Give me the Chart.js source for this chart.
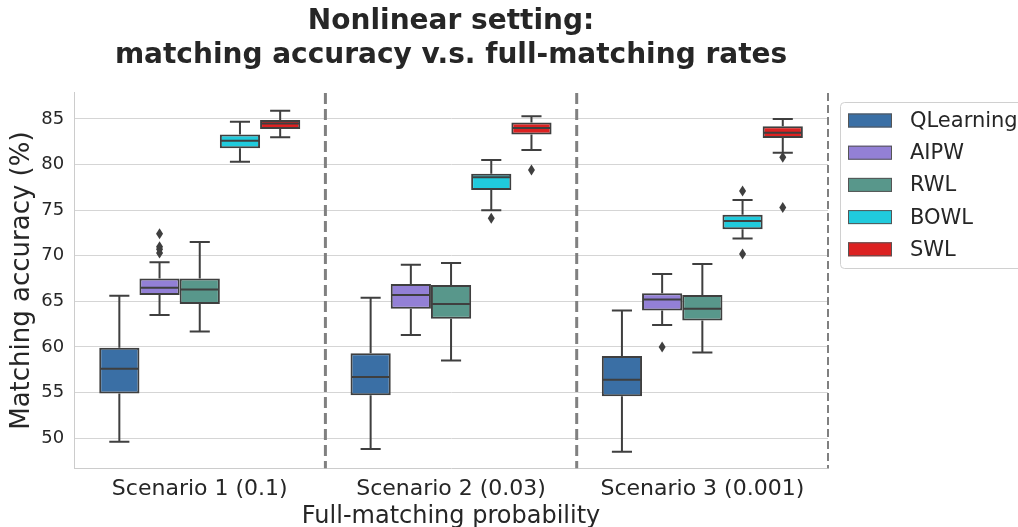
<!DOCTYPE html>
<html>
<head>
<meta charset="utf-8">
<script src="https://cdn.jsdelivr.net/npm/chart.js@4.4.0/dist/chart.umd.min.js"></script>
<style>
  html, body { margin: 0; padding: 0; background: #fff; overflow: hidden; }
  #wrap { width: 1018px; height: 527px; }
</style>
</head>
<body>
<div id="wrap"><canvas id="grafico" width="1018" height="527"></canvas></div>
<script>
// categorias e métodos
const scenarios = ['Scenario 1 (0.1)', 'Scenario 2 (0.03)', 'Scenario 3 (0.001)'];
const methods = ['QLearning', 'AIPW', 'RWL', 'BOWL', 'SWL'];
const yTicks = [50, 55, 60, 65, 70, 75, 80, 85];

// cada linha: [bigode inferior, Q1, mediana, Q3, bigode superior], um por cenário
const qlearningStats = [[49.6, 54.9, 57.6, 59.9, 65.6], [48.8, 54.7, 56.7, 59.3, 65.4], [48.5, 54.6, 56.4, 59.0, 64.0]];
const aipwStats      = [[63.5, 65.7, 66.5, 67.5, 69.3], [61.3, 64.2, 65.7, 66.9, 69.0], [62.4, 64.0, 65.2, 65.9, 68.0]];
const rwlStats       = [[61.7, 64.7, 66.3, 67.5, 71.5], [58.5, 63.1, 64.7, 66.8, 69.2], [59.4, 62.9, 64.2, 65.7, 69.1]];
const bowlStats      = [[80.3, 81.8, 82.6, 83.3, 84.7], [75.0, 77.2, 78.6, 79.0, 80.5], [71.9, 72.9, 73.8, 74.5, 76.1]];
const swlStats       = [[83.0, 83.9, 84.5, 84.9, 85.9], [81.6, 83.3, 84.0, 84.6, 85.3], [81.3, 82.9, 83.5, 84.2, 85.0]];

// pontos fora dos bigodes
const qlearningOutliers = [[], [], []];
const aipwOutliers      = [[72.4, 71.0, 70.7, 70.3], [], [60.0]];
const rwlOutliers       = [[], [], []];
const bowlOutliers      = [[], [74.1], [77.1, 70.2]];
const swlOutliers       = [[], [79.4], [80.8, 75.3]];

const allStats = [qlearningStats, aipwStats, rwlStats, bowlStats, swlStats];
const allOutliers = [qlearningOutliers, aipwOutliers, rwlOutliers, bowlOutliers, swlOutliers];
const cores = ['#3a6fa5', '#9380d6', '#58978b', '#20cbdd', '#dc2121'];
const cinza = '#3f3f3f';

// bigodes, medianas e outliers desenhados pela escala do gráfico
const boxExtras = {
  id: 'boxExtras',
  beforeDatasetsDraw(chart) {
    const ctx = chart.ctx, x = chart.scales.x, area = chart.chartArea;
    ctx.save();
    ctx.strokeStyle = '#808080';
    for (let i = 0; i < scenarios.length - 1; i++) {
      const xm = (x.getPixelForValue(i) + x.getPixelForValue(i + 1)) / 2;
      ctx.lineWidth = 3;
      ctx.setLineDash([11, 5]);
      ctx.beginPath(); ctx.moveTo(xm, area.top); ctx.lineTo(xm, area.bottom); ctx.stroke();
    }
    ctx.lineWidth = 2;
    ctx.setLineDash([8, 4]);
    ctx.beginPath(); ctx.moveTo(area.right, area.top); ctx.lineTo(area.right, area.bottom); ctx.stroke();
    ctx.restore();
  },
  afterDatasetsDraw(chart) {
    const ctx = chart.ctx, y = chart.scales.y;
    ctx.save();
    ctx.strokeStyle = cinza;
    ctx.fillStyle = cinza;
    allStats.forEach((stats, i) => {
      const meta = chart.getDatasetMeta(i);
      meta.data.forEach((bar, j) => {
        const s = stats[j];
        const cx = bar.x, w = bar.width;
        const lo = y.getPixelForValue(s[0]), q1 = y.getPixelForValue(s[1]);
        const med = y.getPixelForValue(s[2]), q3 = y.getPixelForValue(s[3]);
        const hi = y.getPixelForValue(s[4]);
        ctx.lineWidth = 2;
        ctx.beginPath();
        ctx.moveTo(cx, q1); ctx.lineTo(cx, lo);
        ctx.moveTo(cx - w / 4, lo); ctx.lineTo(cx + w / 4, lo);
        ctx.moveTo(cx, q3); ctx.lineTo(cx, hi);
        ctx.moveTo(cx - w / 4, hi); ctx.lineTo(cx + w / 4, hi);
        ctx.stroke();
        ctx.beginPath();
        ctx.moveTo(cx - w / 2 + 1, med); ctx.lineTo(cx + w / 2 - 1, med);
        ctx.stroke();
        allOutliers[i][j].forEach(v => {
          const py = y.getPixelForValue(v);
          ctx.beginPath();
          ctx.moveTo(cx, py - 5.5); ctx.lineTo(cx + 3.5, py);
          ctx.lineTo(cx, py + 5.5); ctx.lineTo(cx - 3.5, py);
          ctx.closePath(); ctx.fill();
        });
      });
    });
    ctx.restore();
  },
  afterDraw(chart) {
    // legenda com moldura, à direita e cortada pela borda
    const ctx = chart.ctx;
    ctx.save();
    ctx.strokeStyle = '#d0d0d0';
    ctx.lineWidth = 1;
    ctx.beginPath();
    ctx.roundRect(840.5, 102.5, 200, 166, 4);
    ctx.fillStyle = 'rgba(255,255,255,0.8)';
    ctx.fill();
    ctx.stroke();
    ctx.font = '21px "DejaVu Sans"';
    ctx.textBaseline = 'middle';
    methods.forEach((m, i) => {
      const cy = 120.5 + i * 32.2;
      ctx.fillStyle = cores[i];
      ctx.fillRect(848, cy - 7, 44, 14);
      ctx.strokeStyle = '#555';
      ctx.strokeRect(848.5, cy - 6.5, 43, 13);
      ctx.fillStyle = '#262626';
      ctx.fillText(m, 910, cy + 1);
    });
    ctx.restore();
  }
};

const ctx = document.getElementById('grafico').getContext('2d');
const grafico = new Chart(ctx, {
  type: 'bar',
  data: {
    labels: scenarios,
    datasets: methods.map((m, i) => ({
      label: m,
      data: allStats[i].map(s => [s[1], s[3]]),
      backgroundColor: cores[i],
      borderColor: cinza,
      borderWidth: 2,
      borderSkipped: false,
      categoryPercentage: 0.8,
      barPercentage: 1.0
    }))
  },
  options: {
    responsive: false,
    animation: false,
    layout: { padding: { left: 4, right: 190, top: 0, bottom: 0 } },
    plugins: {
      legend: { display: false },
      tooltip: { enabled: false },
      title: {
        display: true,
        fullSize: false,
        text: ['Nonlinear setting:', 'matching accuracy v.s. full-matching rates'],
        color: '#262626',
        font: { family: 'DejaVu Sans', size: 28, weight: 'bold', lineHeight: 1.214 },
        padding: { top: 5, bottom: 20 }
      }
    },
    scales: {
      x: {
        grid: { display: false, drawTicks: false },
        border: { color: '#cccccc', width: 1 },
        ticks: { color: '#262626', font: { family: 'DejaVu Sans', size: 22 }, padding: 8 },
        title: {
          display: true, text: 'Full-matching probability', color: '#262626',
          font: { family: 'DejaVu Sans', size: 24, lineHeight: 1.0 }, padding: { top: -5.6, bottom: -2 }
        }
      },
      y: {
        min: 46.7,
        max: 87.85,
        afterBuildTicks: axis => { axis.ticks = yTicks.map(v => ({ value: v })); },
        grid: { color: '#d5d5d5', lineWidth: 1, drawTicks: false },
        border: { color: '#cccccc', width: 1 },
        ticks: { color: '#262626', font: { family: 'DejaVu Sans', size: 18 }, padding: 10 },
        title: {
          display: true, text: 'Matching accuracy (%)', color: '#262626',
          font: { family: 'DejaVu Sans', size: 26 }, padding: { top: 3, bottom: -7 }
        }
      }
    }
  },
  plugins: [boxExtras]
});
</script>
</body>
</html>
